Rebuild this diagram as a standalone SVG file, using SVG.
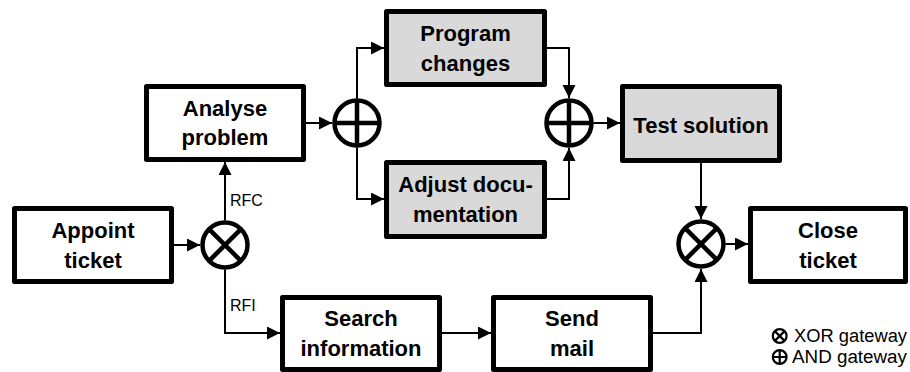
<svg xmlns="http://www.w3.org/2000/svg" width="910" height="372" viewBox="0 0 910 372">
<style>
.box{fill:#fff;stroke:#000;stroke-width:5;stroke-linejoin:round}
.gray{fill:#d9d9d9}
.lbl{font-family:"Liberation Sans",Arial,sans-serif;font-weight:bold;font-size:22px;text-anchor:middle;fill:#000}
.gw{fill:#fff;stroke:#000;stroke-width:4.5}
.gl{stroke:#000;stroke-width:4.5;fill:none}
.con{fill:none;stroke:#000;stroke-width:2}
.arr{marker-end:url(#ah)}
.small{font-family:"Liberation Sans",Arial,sans-serif;font-size:16px;fill:#000}
.leg{font-family:"Liberation Sans",Arial,sans-serif;font-size:18px;fill:#000}
.ic{fill:none;stroke:#000;stroke-width:2.2}
</style>
<defs>
<marker id="ah" markerUnits="userSpaceOnUse" markerWidth="14" markerHeight="14" refX="13" refY="6.5" orient="auto">
<path d="M0,0 L13,6.5 L0,13 z" fill="#000"/>
</marker>
</defs>

<g id="connectors">
<path class="con arr" d="M173,245 H200"/>
<path class="con arr" d="M225,220.5 V162"/>
<path class="con arr" d="M225,269.5 V333 H280"/>
<path class="con arr" d="M306,123 H332"/>
<path class="con arr" d="M357,98.5 V48 H384"/>
<path class="con arr" d="M357,147.5 V199 H384"/>
<path class="con arr" d="M547,48 H569 V98"/>
<path class="con arr" d="M547,199 H569 V148"/>
<path class="con arr" d="M593.5,123 H620"/>
<path class="con arr" d="M701,163 V219"/>
<path class="con arr" d="M442,333 H491"/>
<path class="con arr" d="M653,333 H701 V269"/>
<path class="con arr" d="M725.5,244 H748"/>
<text class="small" x="230" y="206">RFC</text>
<text class="small" x="230" y="311">RFI</text>
</g>

<g id="appoint-ticket">
<rect class="box" x="14.5" y="208.5" width="157" height="73"/>
<text class="lbl" x="93" y="238">Appoint</text>
<text class="lbl" x="93" y="268">ticket</text>
</g>

<g id="xor-split">
<circle class="gw" cx="225" cy="245" r="22.5"/>
<path class="gl" d="M209.1,229.1 L240.9,260.9 M240.9,229.1 L209.1,260.9"/>
</g>

<g id="analyse-problem">
<rect class="box" x="146.5" y="86.5" width="157" height="73"/>
<text class="lbl" x="225" y="116">Analyse</text>
<text class="lbl" x="225" y="145">problem</text>
</g>

<g id="and-split">
<circle class="gw" cx="357" cy="123" r="22.5"/>
<path class="gl" d="M334.5,123 H379.5 M357,100.5 V145.5"/>
</g>

<g id="program-changes">
<rect class="box gray" x="386.5" y="11.5" width="158" height="73"/>
<text class="lbl" x="465.5" y="41">Program</text>
<text class="lbl" x="465.5" y="71">changes</text>
</g>

<g id="adjust-documentation">
<rect class="box gray" x="386.5" y="162.5" width="158" height="74"/>
<text class="lbl" x="465.5" y="192">Adjust docu-</text>
<text class="lbl" x="465.5" y="222">mentation</text>
</g>

<g id="and-join">
<circle class="gw" cx="569" cy="123" r="22.5"/>
<path class="gl" d="M546.5,123 H591.5 M569,100.5 V145.5"/>
</g>

<g id="test-solution">
<rect class="box gray" x="622.5" y="86.5" width="157" height="74"/>
<text class="lbl" x="701" y="133">Test solution</text>
</g>

<g id="xor-join">
<circle class="gw" cx="701" cy="244" r="22.5"/>
<path class="gl" d="M685.1,228.1 L716.9,259.9 M716.9,228.1 L685.1,259.9"/>
</g>

<g id="close-ticket">
<rect class="box" x="750.5" y="208.5" width="155" height="73"/>
<text class="lbl" x="828" y="238">Close</text>
<text class="lbl" x="828" y="268">ticket</text>
</g>

<g id="search-information">
<rect class="box" x="282.5" y="297.5" width="157" height="72"/>
<text class="lbl" x="361" y="326">Search</text>
<text class="lbl" x="361" y="356">information</text>
</g>

<g id="send-mail">
<rect class="box" x="493.5" y="297.5" width="157" height="72"/>
<text class="lbl" x="572" y="326">Send</text>
<text class="lbl" x="572" y="356">mail</text>
</g>

<g id="legend">
<circle class="ic" cx="779.7" cy="336" r="6.9"/>
<path class="ic" d="M774.8,331.1 L784.6,340.9 M784.6,331.1 L774.8,340.9"/>
<text class="leg" x="794" y="342" textLength="113" lengthAdjust="spacingAndGlyphs">XOR gateway</text>
<circle class="ic" cx="779.7" cy="357" r="6.9"/>
<path class="ic" d="M772.8,357 H786.6 M779.7,350.1 V363.9"/>
<text class="leg" x="792" y="363" textLength="115" lengthAdjust="spacingAndGlyphs">AND gateway</text>
</g>
</svg>
